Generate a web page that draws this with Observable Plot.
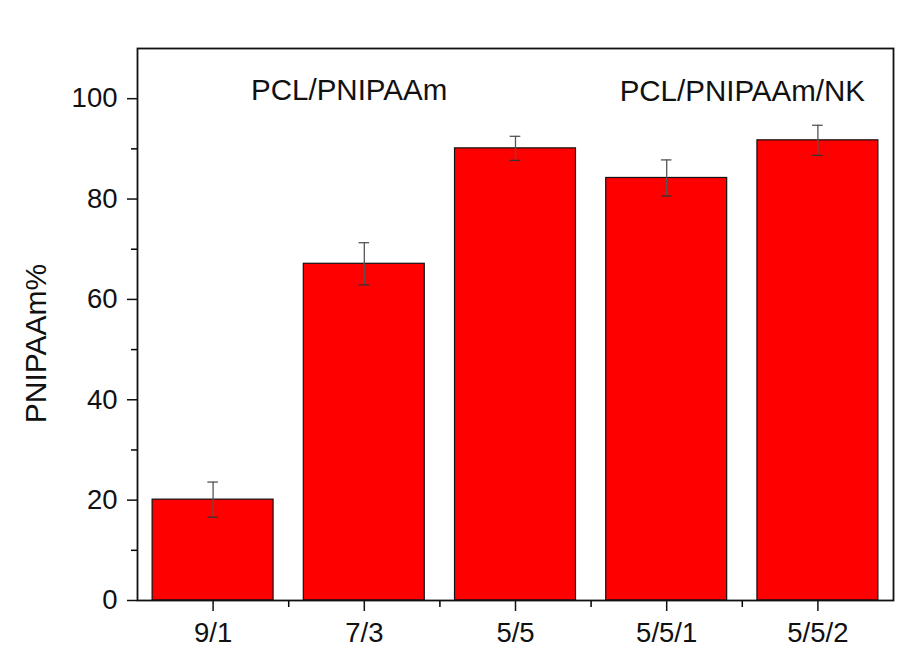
<!DOCTYPE html>
<html>
<head>
<meta charset="utf-8">
<script src="https://cdn.jsdelivr.net/npm/d3@7"></script>
<script src="https://cdn.jsdelivr.net/npm/@observablehq/plot@0.6"></script>
<style>
  html, body { margin: 0; padding: 0; background: #fff; }
  svg { font-family: "Liberation Sans", Arial, sans-serif; }
</style>
</head>
<body>
<div id="chart"></div>
<script>
const categories = ["9/1", "7/3", "5/5", "5/5/1", "5/5/2"];
const values = [20.1, 67.1, 90.1, 84.2, 91.7];
const errors = [3.5, 4.2, 2.4, 3.6, 3.0];
const yTicks = [0, 20, 40, 60, 80, 100];
const yMinorTicks = [10, 30, 50, 70, 90];
const groupLabels = ["PCL/PNIPAAm", "PCL/PNIPAAm/NK"];
const yLabel = "PNIPAAm%";

const data = categories.map((c, i) => ({i, c, v: values[i], e: errors[i]}));
const halfBar = 0.4;
const halfCap = 0.035;
const xMajor = categories.map((c, i) => i);
const xMinor = categories.slice(0, -1).map((c, i) => i + 0.5);

const chart = Plot.plot({
  width: 911,
  height: 655,
  marginLeft: 137,
  marginRight: 18,
  marginTop: 48,
  marginBottom: 55,
  style: {fontFamily: '"Liberation Sans", Arial, sans-serif', background: "#fff", overflow: "visible"},
  x: {type: "linear", domain: [-0.5, 4.5]},
  y: {domain: [0, 110]},
  marks: [
    Plot.rectY(data, {x1: d => d.i - halfBar, x2: d => d.i + halfBar, y1: 0, y2: "v", fill: "#ff0000", stroke: "#111", strokeWidth: 1.2}),
    Plot.ruleX(data, {x: "i", y1: d => d.v - d.e, y2: d => d.v + d.e, stroke: "#555", strokeWidth: 1.3}),
    Plot.ruleY(data, {y: d => d.v + d.e, x1: d => d.i - halfCap, x2: d => d.i + halfCap, stroke: "#555", strokeWidth: 1.3}),
    Plot.ruleY(data, {y: d => d.v - d.e, x1: d => d.i - halfCap, x2: d => d.i + halfCap, stroke: "#333", strokeWidth: 1.3}),
    Plot.text([groupLabels[0]], {x: 0.9, y: 100, text: d => d, fontSize: 29.5, fill: "#111", lineAnchor: "bottom", dy: 1}),
    Plot.text([groupLabels[1]], {x: 3.5, y: 100, text: d => d, fontSize: 29.5, fill: "#111", lineAnchor: "bottom", dy: 2}),
    Plot.text([yLabel], {frameAnchor: "left", textAnchor: "middle", text: d => d, rotate: -90, fontSize: 30, fill: "#111", dx: -101, dy: 19}),
    Plot.axisY({ticks: yTicks, tickSize: 10, tickPadding: 10, fontSize: 27.5, tickFormat: d => d, strokeWidth: 1.5,
      label: null, color: "#111"}),
    Plot.axisY({ticks: yMinorTicks, tickSize: 6, text: null, label: null, strokeWidth: 1.5}),
    Plot.axisX({ticks: xMajor, tickSize: 11, tickPadding: 11, fontSize: 27.5, tickFormat: d => categories[d], label: null, strokeWidth: 1.5, color: "#111"}),
    Plot.axisX({ticks: xMinor, tickSize: 7, text: null, label: null, strokeWidth: 1.5}),
    Plot.frame({stroke: "#111", strokeWidth: 1.8})
  ]
});
document.getElementById("chart").appendChild(chart);
</script>
</body>
</html>
